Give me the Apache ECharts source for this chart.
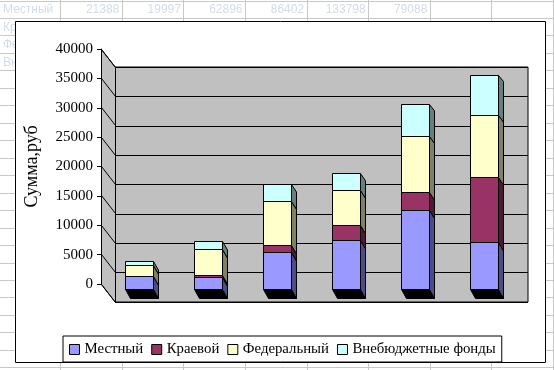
<!DOCTYPE html>
<html>
<head>
<meta charset="utf-8">
<script src="https://cdn.jsdelivr.net/npm/echarts@6/dist/echarts.min.js"></script>
<style>html,body{margin:0;padding:0;background:#fff}#c{width:554px;height:370px}</style>
</head>
<body>
<div id="c"></div>
<script>
// ---- data ----
const categories = ['1', '2', '3', '4', '5', '6'];
const seriesNames = ['Местный', 'Краевой', 'Федеральный', 'Внебюджетные фонды'];
const mestny   = [2138.8, 1999.7, 6289.6, 8340.2, 13379.8, 7908.8];
const kraevoy  = [0, 290, 1243, 2553, 3064, 11064];
const federal  = [1974, 4545, 7370, 5957, 9634, 10553];
const vnebudzh = [580, 1360, 2960, 2894, 5345, 6860];
const yTicks = [0, 5000, 10000, 15000, 20000, 25000, 30000, 35000, 40000];
// faint spreadsheet row behind the chart
const sheetRowLabels = ['Местный', 'Краевой', 'Федеральный', 'Внебюджетные фонды'];
const sheetRow1 = ['21388', '19997', '62896', '86402', '133798', '79088'];

// ---- styles ----
const frontColors = ['#9999ff', '#993366', '#ffffcc', '#ccffff'];
const sideColors  = ['#4d4d85', '#4d1a33', '#808066', '#668080'];
const DX = 5;
function dyAt(y) { return 6 + 3 * (y - 76) / 213; }
const serif = 'Liberation Serif';

const all = [mestny, kraevoy, federal, vnebudzh];

function stackData(k) {
  return categories.map((c, i) => {
    let base = 0;
    for (let j = 0; j < k; j++) base += all[j][i];
    return [i, base, base + all[k][i]];
  });
}

function r5(v) { return Math.round(v - 0.5) + 0.5; }

function barRender(k) {
  return function (params, api) {
    const i = api.value(0), b = api.value(1), t = api.value(2);
    if (t - b <= 0) return null;
    const p0 = api.coord([i, b]);
    const p1 = api.coord([i, t]);
    const w = api.size([1, 0])[0] * 0.406;
    const x0 = r5(p0[0] - w / 2), x1 = r5(p0[0] + w / 2);
    const yb = r5(p0[1]), yt = r5(p1[1]);
    const children = [];
    if (k === 0) {
      children.push({
        type: 'polygon',
        shape: { points: [[x0, yb], [x1, yb], [x1 + DX, yb + 9], [x0 + DX, yb + 9]] },
        style: { fill: '#000', stroke: '#000', lineWidth: 1 }
      });
    }
    const dB = (k === 0) ? 9 : dyAt(yb);
    children.push({
      type: 'polygon',
      shape: { points: [[x1, yt], [x1 + DX, yt + dyAt(yt)], [x1 + DX, yb + dB], [x1, yb]] },
      style: { fill: sideColors[k], stroke: '#000', lineWidth: 1 }
    });
    children.push({
      type: 'rect',
      shape: { x: x0, y: yt, width: x1 - x0, height: yb - yt },
      style: { fill: frontColors[k], stroke: '#000', lineWidth: 1 }
    });
    return { type: 'group', children: children };
  };
}

// background spreadsheet decoration
const graphics = [];
for (let k = 0; k < 22; k++) {
  const y = r5(1 + 17.47 * k);
  graphics.push({ type: 'line', z: -100, shape: { x1: 0, y1: y, x2: 554, y2: y }, style: { stroke: '#c8c8c8', lineWidth: 1 } });
}
for (let k = 0; k < 9; k++) {
  const x = r5(60.7 + 61.6 * k);
  graphics.push({ type: 'line', z: -100, shape: { x1: x, y1: 0, x2: x, y2: 370 }, style: { stroke: '#c8c8c8', lineWidth: 1 } });
}
sheetRowLabels.forEach((s, k) => {
  graphics.push({ type: 'text', z: -90, style: { text: s, x: 3, y: 1 + 17.47 * k + 9, verticalAlign: 'middle', fill: '#d3dbea', font: '12px "Liberation Sans"' } });
});
sheetRow1.forEach((s, k) => {
  graphics.push({ type: 'text', z: -90, style: { text: s, x: 60.7 + 61.6 * (k + 1) - 3, y: 10, align: 'right', verticalAlign: 'middle', fill: '#d3dbea', font: '12px "Liberation Sans"' } });
});
graphics.push({ type: 'rect', z: -50, shape: { x: 15.5, y: 21.5, width: 530, height: 341 }, style: { fill: '#fff', stroke: '#000', lineWidth: 1 } });

const series = [];
series.push({
  type: 'custom', xAxisIndex: 0, yAxisIndex: 0, z: 2, silent: true,
  data: [[0, 0, 40000]],
  renderItem: function (params, api) {
    const a = api.coord([0, api.value(1)]), b = api.coord([0, api.value(2)]);
    const ax = r5(a[0]), ay = r5(a[1]), by = r5(b[1]);
    return { type: 'polygon', shape: { points: [[ax, ay], [ax, by], [ax + 14, by + 18], [ax + 14, ay + 18]] },
      style: { fill: '#c0c0c0', stroke: '#000', lineWidth: 1 } };
  }
});
series.push({
  type: 'custom', xAxisIndex: 0, yAxisIndex: 0, z: 3, silent: true,
  data: yTicks.map(v => [0, v]),
  renderItem: function (params, api) {
    const a = api.coord([0, api.value(1)]);
    const ax = r5(a[0]), ay = r5(a[1]);
    return { type: 'line', shape: { x1: ax, y1: ay, x2: ax + 14, y2: ay + 18 }, style: { stroke: '#000', lineWidth: 1 } };
  }
});
for (let k = 0; k < 4; k++) {
  series.push({
    type: 'custom', name: seriesNames[k], xAxisIndex: 2, yAxisIndex: 2, z: 4,
    itemStyle: { color: frontColors[k] },
    data: stackData(k),
    renderItem: barRender(k)
  });
}

const chart = echarts.init(document.getElementById('c'), null, { renderer: 'canvas' });
chart.setOption({
  animation: false,
  graphic: graphics,
  legend: {
    left: 63, top: 336, orient: 'horizontal',
    padding: [6, 6, 5, 6], itemGap: 8, itemWidth: 10, itemHeight: 10,
    borderColor: '#000', borderWidth: 1, borderRadius: 0, backgroundColor: '#fff',
    icon: 'rect',
    itemStyle: { borderColor: '#000', borderWidth: 1 },
    textStyle: { fontFamily: serif, fontSize: 14.8, color: '#000' },
    data: seriesNames
  },
  grid: [
    { left: 101, top: 49, width: 413, height: 235 },
    { left: 115, top: 67, width: 413, height: 235, show: true, backgroundColor: '#c0c0c0', borderColor: '#000', borderWidth: 1 },
    { left: 105.2, top: 54.3, width: 414, height: 235 }
  ],
  xAxis: [
    { gridIndex: 0, type: 'value', min: 0, max: 1, show: false },
    { gridIndex: 1, type: 'value', min: 0, max: 1, show: false },
    { gridIndex: 2, type: 'category', data: categories, show: false }
  ],
  yAxis: [
    { gridIndex: 0, type: 'value', min: 0, max: 40000, interval: 5000,
      axisLine: { show: true, lineStyle: { color: '#000' } },
      axisTick: { show: true, length: 4, lineStyle: { color: '#000' } },
      axisLabel: { margin: 8, fontFamily: serif, fontSize: 15, color: '#000', formatter: v => String(v) },
      splitLine: { show: false },
      name: 'Сумма,руб', nameLocation: 'middle', nameGap: 60, nameRotate: 90,
      nameTextStyle: { fontFamily: serif, fontSize: 18, color: '#000' } },
    { gridIndex: 1, type: 'value', min: 0, max: 40000, interval: 5000,
      axisLine: { show: false }, axisTick: { show: false }, axisLabel: { show: false },
      splitLine: { show: true, lineStyle: { color: '#000', width: 1 } } },
    { gridIndex: 2, type: 'value', min: 0, max: 40000, show: false }
  ],
  series: series
});
</script>
</body>
</html>
